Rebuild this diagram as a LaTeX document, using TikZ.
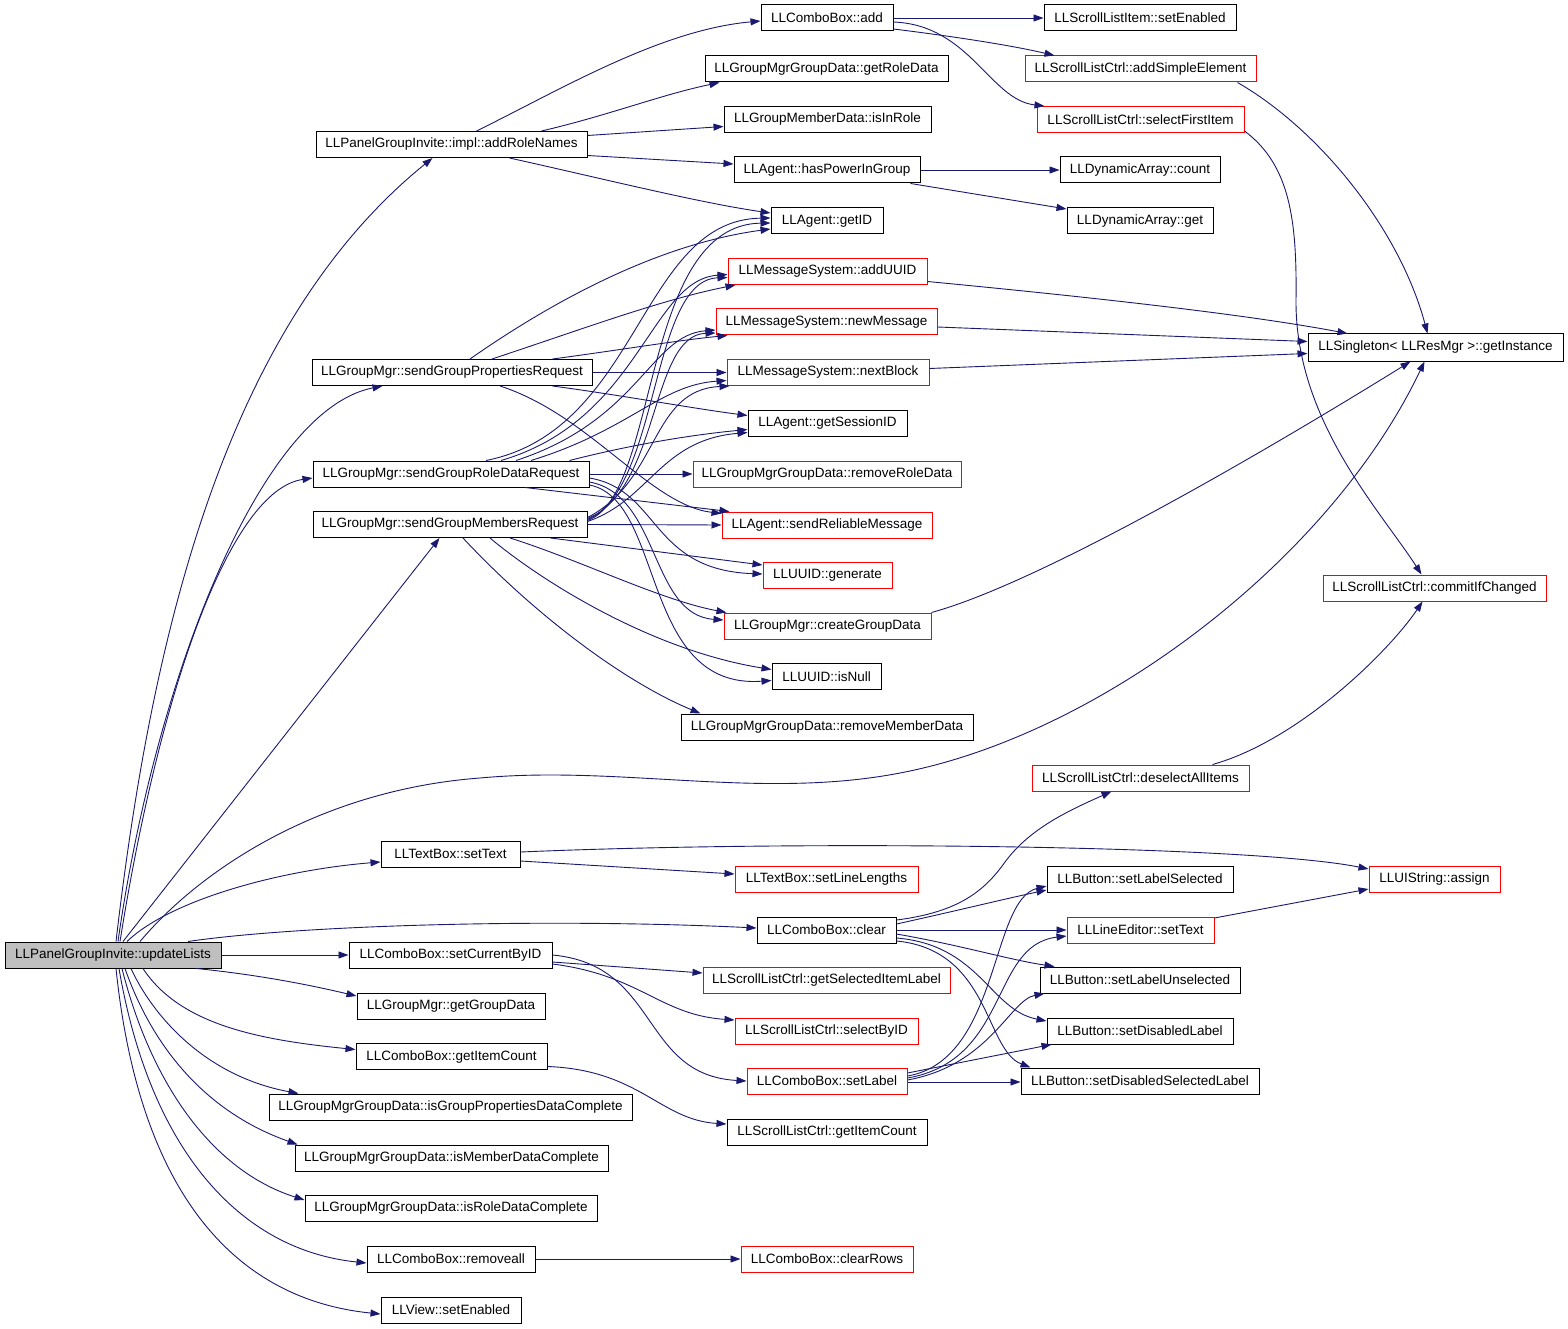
\documentclass[tikz,border=0pt]{standalone}
\usepackage{fontspec}
\setmainfont{Liberation Sans}
\usetikzlibrary{arrows.meta,calc}
\definecolor{edgeblue}{RGB}{25,25,112}
\definecolor{rootgray}{RGB}{191,191,191}
\begin{document}
\begin{tikzpicture}[x=1pt,y=-1pt,
 box/.style={draw=black,line width=1pt,minimum height=26pt,inner sep=0pt,font=\fontsize{13.5}{16}\selectfont},
 redbox/.style={box,draw=red},
 edg/.style={draw=edgeblue,line width=0.9pt,-{Triangle[length=10pt,width=7pt]}}]
\path[fill=white,use as bounding box] (0,0) rectangle (1568,1329);
% column 0
\node[box,minimum width=216pt,fill=rootgray] (upd) at (113,955) {LLPanelGroupInvite::updateLists};
% column 1
\node[box,minimum width=271pt] (addrole) at (451.5,144.5) {LLPanelGroupInvite::impl::addRoleNames};
\node[box,minimum width=280pt] (props) at (452,372.5) {LLGroupMgr::sendGroupPropertiesRequest};
\node[box,minimum width=276pt] (role) at (451,474) {LLGroupMgr::sendGroupRoleDataRequest};
\node[box,minimum width=274pt] (members) at (450,524.5) {LLGroupMgr::sendGroupMembersRequest};
\node[box,minimum width=139pt] (textset) at (450.5,854) {LLTextBox::setText};
\node[box,minimum width=203pt] (setcur) at (450.5,955) {LLComboBox::setCurrentByID};
\node[box,minimum width=188pt] (getgroup) at (451,1006) {LLGroupMgr::getGroupData};
\node[box,minimum width=191pt] (cbitem) at (451.5,1056.5) {LLComboBox::getItemCount};
\node[box,minimum width=363pt] (isgpdc) at (450.5,1107) {LLGroupMgrGroupData::isGroupPropertiesDataComplete};
\node[box,minimum width=313pt] (ismdc) at (451.5,1158) {LLGroupMgrGroupData::isMemberDataComplete};
\node[box,minimum width=292pt] (isrdc) at (451,1208) {LLGroupMgrGroupData::isRoleDataComplete};
\node[box,minimum width=168pt] (removeall) at (451,1259) {LLComboBox::removeall};
\node[box,minimum width=140pt] (view) at (451,1310) {LLView::setEnabled};
% column 2
\node[box,minimum width=132pt] (cbadd) at (827,18) {LLComboBox::add};
\node[box,minimum width=243pt] (roledata) at (826.5,69) {LLGroupMgrGroupData::getRoleData};
\node[box,minimum width=207pt] (isinrole) at (827.5,119.5) {LLGroupMemberData::isInRole};
\node[box,minimum width=186pt] (haspower) at (827,170) {LLAgent::hasPowerInGroup};
\node[box,minimum width=112pt] (getid) at (827,221) {LLAgent::getID};
\node[redbox,minimum width=199pt] (adduuid) at (827.5,271.5) {LLMessageSystem::addUUID};
\node[redbox,minimum width=221pt] (newmsg) at (826.5,322) {LLMessageSystem::newMessage};
\node[redbox,minimum width=202pt] (nextblock) at (828,372.5) {LLMessageSystem::nextBlock};
\node[box,minimum width=159pt] (getsess) at (827.5,423.5) {LLAgent::getSessionID};
\node[redbox,minimum width=268pt] (removerole) at (827,474) {LLGroupMgrGroupData::removeRoleData};
\node[redbox,minimum width=210pt] (sendrel) at (827,525) {LLAgent::sendReliableMessage};
\node[redbox,minimum width=129pt] (generate) at (827.5,575) {LLUUID::generate};
\node[redbox,minimum width=207pt] (creategd) at (827.5,626) {LLGroupMgr::createGroupData};
\node[box,minimum width=109pt] (isnull) at (826.5,676.5) {LLUUID::isNull};
\node[box,minimum width=292pt] (removemember) at (827,727) {LLGroupMgrGroupData::removeMemberData};
\node[redbox,minimum width=183pt] (setlinelen) at (826.5,879) {LLTextBox::setLineLengths};
\node[box,minimum width=139pt] (clear) at (826.5,930) {LLComboBox::clear};
\node[redbox,minimum width=247pt] (getsel) at (826.5,980) {LLScrollListCtrl::getSelectedItemLabel};
\node[redbox,minimum width=183pt] (selbyid) at (826.5,1031) {LLScrollListCtrl::selectByID};
\node[redbox,minimum width=160pt] (setlabel) at (827,1081) {LLComboBox::setLabel};
\node[box,minimum width=200pt] (sclitem) at (827,1132) {LLScrollListCtrl::getItemCount};
\node[redbox,minimum width=172pt] (clearrows) at (827,1259) {LLComboBox::clearRows};
% column 3
\node[box,minimum width=192pt] (slisetenabled) at (1140,18) {LLScrollListItem::setEnabled};
\node[redbox,minimum width=231pt] (addsimple) at (1140.5,69) {LLScrollListCtrl::addSimpleElement};
\node[redbox,minimum width=207pt] (selfirst) at (1140.5,119.5) {LLScrollListCtrl::selectFirstItem};
\node[box,minimum width=160pt] (dacount) at (1140,170) {LLDynamicArray::count};
\node[box,minimum width=146pt] (daget) at (1140,221) {LLDynamicArray::get};
\node[redbox,minimum width=217pt] (deselect) at (1140.5,778) {LLScrollListCtrl::deselectAllItems};
\node[box,minimum width=186pt] (setlabsel) at (1140,879) {LLButton::setLabelSelected};
\node[redbox,minimum width=147pt] (lesettext) at (1140.5,930) {LLLineEditor::setText};
\node[box,minimum width=200pt] (setlabunsel) at (1140,980) {LLButton::setLabelUnselected};
\node[box,minimum width=186pt] (setdislab) at (1140,1031) {LLButton::setDisabledLabel};
\node[box,minimum width=238pt] (setdissel) at (1140,1081) {LLButton::setDisabledSelectedLabel};
% column 4
\node[box,minimum width=255pt,minimum height=27pt] (inst) at (1435.5,347.5) {LLSingleton< LLResMgr >::getInstance};
\node[redbox,minimum width=223pt] (commit) at (1434.5,588) {LLScrollListCtrl::commitIfChanged};
\node[redbox,minimum width=131pt] (assign) at (1434.5,879) {LLUIString::assign};

% edges from updateLists
\draw[edg] ($(upd.north)+(3,0)$) .. controls (150,650) and (220,330) .. ($(addrole.south west)+(117,0)$);
\draw[edg] ($(upd.north)+(5,0)$) .. controls (155,680) and (260,410) .. ($(props.south west)+(71,0)$);
\draw[edg] ($(upd.north)+(7,0)$) .. controls (160,690) and (230,490) .. ($(role.west)+(0,4)$);
\draw[edg] ($(upd.north)+(10,0)$) -- ($(members.south west)+(127,0)$);
\draw[edg] ($(upd.north)+(27,0)$) .. controls (200,870) and (320,790) .. (480,778) .. controls (620,765) and (760,800) .. (900,773) .. controls (1100,735) and (1330,560) .. ($(inst.south west)+(117,0)$);
\draw[edg] ($(upd.north)+(14,0)$) .. controls (170,900) and (280,870) .. ($(textset.west)+(0,8)$);
\draw[edg] ($(upd.north)+(75,0)$) .. controls (300,925) and (550,918) .. ($(clear.west)+(0,-2)$);
\draw[edg] (upd.east) -- (setcur.west);
\draw[edg] ($(upd.south east)+(-25,0)$) .. controls (260,975) and (310,985) .. ($(getgroup.west)+(0,-10)$);
\draw[edg] ($(upd.south)+(30,0)$) .. controls (180,1025) and (260,1040) .. ($(cbitem.west)+(0,-7)$);
\draw[edg] ($(upd.south)+(18,0)$) .. controls (150,1010) and (200,1075) .. ($(isgpdc.north west)+(30,0)$);
\draw[edg] ($(upd.south)+(12,0)$) .. controls (150,1040) and (200,1110) .. ($(ismdc.north west)+(3,0)$);
\draw[edg] ($(upd.south)+(9,0)$) .. controls (150,1080) and (210,1170) .. ($(isrdc.west)+(0,-8)$);
\draw[edg] ($(upd.south)+(6,0)$) .. controls (150,1150) and (240,1250) .. ($(removeall.west)+(0,4)$);
\draw[edg] ($(upd.south)+(3,0)$) .. controls (140,1200) and (240,1300) .. ($(view.west)+(0,4)$);

% addRoleNames
\draw[edg] ($(addrole.north)+(25,0)$) .. controls (560,90) and (660,30) .. ($(cbadd.west)+(0,3)$);
\draw[edg] ($(addrole.north)+(90,0)$) .. controls (610,115) and (660,95) .. ($(roledata.south west)+(15,0)$);
\draw[edg] ($(addrole.east)+(0,-9)$) -- ($(isinrole.west)+(0,7)$);
\draw[edg] ($(addrole.east)+(0,11)$) -- ($(haspower.west)+(0,-6)$);
\draw[edg] ($(addrole.south)+(58,0)$) .. controls (600,178) and (700,203) .. ($(getid.west)+(0,-8)$);

% LLComboBox::add
\draw[edg] (cbadd.east) -- (slisetenabled.west);
\draw[edg] ($(cbadd.east)+(0,11)$) .. controls (950,36) and (1010,45) .. ($(addsimple.north west)+(30,0)$);
\draw[edg] ($(cbadd.east)+(0,4)$) .. controls (970,25) and (990,100) .. ($(selfirst.north west)+(8,0)$);
\draw[edg] ($(addsimple.south east)+(-19,0)$) .. controls (1320,130) and (1400,230) .. ($(inst.north west)+(120,0)$);
\draw[edg] ($(selfirst.south east)+(0,-2)$) .. controls (1290,165) and (1297,220) .. (1296,300) .. controls (1295,420) and (1380,510) .. ($(commit.north west)+(99,0)$);

% hasPowerInGroup
\draw[edg] (haspower.east) -- (dacount.west);
\draw[edg] ($(haspower.south east)+(-10,0)$) -- ($(daget.west)+(0,-12)$);

% sendGroupPropertiesRequest
\draw[edg] ($(props.north)+(18,0)$) .. controls (540,310) and (650,245) .. ($(getid.west)+(0,8)$);
\draw[edg] ($(props.north)+(40,0)$) .. controls (580,330) and (660,300) .. ($(adduuid.south west)+(8,0)$);
\draw[edg] ($(props.north east)+(-40,0)$) .. controls (620,350) and (680,340) .. ($(newmsg.south west)+(12,0)$);
\draw[edg] (props.east) -- (nextblock.west);
\draw[edg] ($(props.south east)+(-40,0)$) .. controls (620,395) and (690,408) .. ($(getsess.west)+(0,-8)$);
\draw[edg] ($(props.south)+(48,0)$) .. controls (590,415) and (650,505) .. ($(sendrel.north west)+(0,2)$);

% sendGroupRoleDataRequest
\draw[edg] ($(role.north)+(35,0)$) .. controls (640,430) and (640,220) .. ($(getid.west)+(0,-3)$);
\draw[edg] ($(role.north)+(50,0)$) .. controls (640,420) and (650,280) .. ($(adduuid.west)+(0,3)$);
\draw[edg] ($(role.north)+(65,0)$) .. controls (640,420) and (650,335) .. ($(newmsg.west)+(0,8)$);
\draw[edg] ($(role.north)+(80,0)$) .. controls (630,430) and (660,385) .. ($(nextblock.west)+(0,8)$);
\draw[edg] ($(role.north east)+(-20,0)$) .. controls (630,445) and (690,435) .. ($(getsess.west)+(0,6)$);
\draw[edg] (role.east) -- (removerole.west);
\draw[edg] ($(role.south)+(74,0)$) -- ($(sendrel.north west)+(8,0)$);
\draw[edg] ($(role.east)+(0,4)$) .. controls (660,490) and (650,570) .. ($(generate.west)+(0,-1)$);
\draw[edg] ($(role.east)+(0,8)$) .. controls (660,495) and (650,615) .. ($(creategd.west)+(0,-6)$);
\draw[edg] ($(role.east)+(0,11)$) .. controls (665,500) and (640,690) .. ($(isnull.west)+(0,4)$);

% sendGroupMembersRequest
\draw[edg] ($(members.east)+(0,-4)$) .. controls (660,495) and (640,225) .. ($(getid.west)+(0,2)$);
\draw[edg] ($(members.east)+(0,-5)$) .. controls (660,490) and (650,280) .. ($(adduuid.west)+(0,6)$);
\draw[edg] ($(members.east)+(0,-6)$) .. controls (660,490) and (650,335) .. ($(newmsg.west)+(0,11)$);
\draw[edg] ($(members.east)+(0,-7)$) .. controls (660,480) and (650,390) .. ($(nextblock.south west)+(3,0)$);
\draw[edg] ($(members.east)+(0,-3)$) .. controls (650,500) and (660,440) .. ($(getsess.west)+(0,9)$);
\draw[edg] (members.east) -- (sendrel.west);
\draw[edg] ($(members.south east)+(-37,0)$) -- ($(generate.west)+(0,-10)$);
\draw[edg] ($(members.south)+(60,0)$) .. controls (580,560) and (660,600) .. ($(creategd.north west)+(3,0)$);
\draw[edg] ($(members.south)+(40,0)$) .. controls (540,580) and (650,650) .. ($(isnull.west)+(0,-7)$);
\draw[edg] ($(members.south)+(13,0)$) .. controls (530,610) and (620,680) .. ($(removemember.north west)+(20,0)$);

% to getInstance
\draw[edg] ($(adduuid.east)+(0,10)$) .. controls (1100,298) and (1250,315) .. ($(inst.north west)+(40,0)$);
\draw[edg] ($(newmsg.east)+(0,5)$) -- ($(inst.west)+(0,-6)$);
\draw[edg] ($(nextblock.east)+(0,-4)$) -- ($(inst.west)+(0,6)$);
\draw[edg] (creategd.north east) .. controls (1050,580) and (1300,430) .. ($(inst.south west)+(103,0)$);

% LLTextBox::setText
\draw[edg] ($(textset.east)+(0,7)$) -- ($(setlinelen.west)+(0,-5)$);
\draw[edg] ($(textset.east)+(0,-2)$) .. controls (800,840) and (1250,845) .. ($(assign.west)+(0,-10)$);

% LLComboBox::clear
\draw[edg] ($(clear.east)+(0,-10)$) .. controls (960,912) and (985,890) .. (1005,862) .. controls (1030,828) and (1070,810) .. ($(deselect.south west)+(80,0)$);
\draw[edg] ($(clear.east)+(0,-6)$) .. controls (960,910) and (1000,900) .. ($(setlabsel.west)+(0,11)$);
\draw[edg] (clear.east) -- (lesettext.west);
\draw[edg] ($(clear.east)+(0,4)$) .. controls (960,945) and (1010,960) .. ($(setlabunsel.north west)+(15,0)$);
\draw[edg] ($(clear.east)+(0,8)$) .. controls (980,945) and (990,1010) .. ($(setdislab.west)+(0,-10)$);
\draw[edg] ($(clear.east)+(0,11)$) .. controls (990,950) and (985,1050) .. ($(setdissel.north west)+(10,0)$);

% setCurrentByID
\draw[edg] ($(setcur.east)+(0,7)$) -- ($(getsel.west)+(0,-7)$);
\draw[edg] ($(setcur.east)+(0,9)$) .. controls (640,975) and (660,1015) .. ($(selbyid.west)+(0,-11)$);
\draw[edg] (setcur.east) .. controls (660,965) and (640,1075) .. (setlabel.west);

% setLabel
\draw[edg] ($(setlabel.east)+(0,-5)$) .. controls (1000,1060) and (990,900) .. ($(setlabsel.west)+(0,7)$);
\draw[edg] ($(setlabel.east)+(0,-3)$) .. controls (1010,1060) and (990,945) .. ($(lesettext.west)+(0,6)$);
\draw[edg] ($(setlabel.east)+(0,-1)$) .. controls (990,1065) and (1010,1000) .. ($(setlabunsel.south west)+(5,0)$);
\draw[edg] ($(setlabel.east)+(0,-8)$) -- ($(setdislab.south west)+(5,0)$);
\draw[edg] ($(setlabel.east)+(0,1)$) -- ($(setdissel.west)+(0,1)$);

% others
\draw[edg] ($(lesettext.east)+(0,-12)$) -- ($(assign.west)+(0,10)$);
\draw[edg] ($(deselect.north east)+(-37,0)$) .. controls (1300,740) and (1390,650) .. ($(commit.south)+(-12,0)$);
\draw[edg] ($(cbitem.east)+(0,10)$) .. controls (640,1070) and (660,1120) .. ($(sclitem.west)+(0,-8)$);
\draw[edg] (removeall.east) -- (clearrows.west);
\end{tikzpicture}
\end{document}
